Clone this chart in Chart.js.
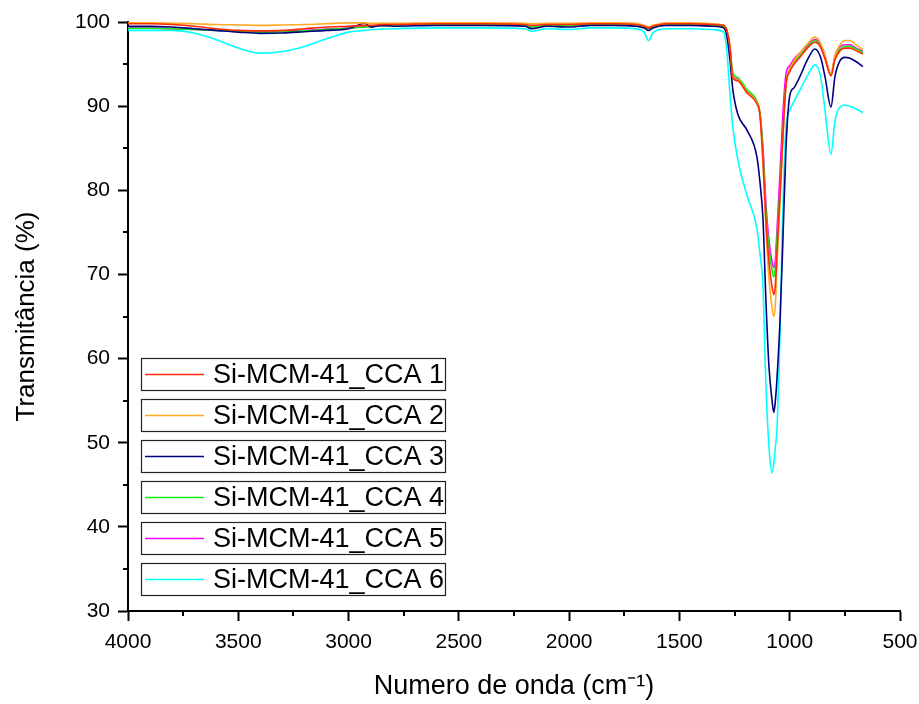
<!DOCTYPE html>
<html>
<head>
<meta charset="utf-8">
<title>FTIR Si-MCM-41_CCA</title>
<script src="https://cdn.jsdelivr.net/npm/chart.js@4.4.1/dist/chart.umd.min.js"></script>
<style>
  html, body { margin: 0; padding: 0; background: #fff; }
  #wrap { width: 919px; height: 704px; position: relative; }
</style>
</head>
<body>
<div id="wrap"><canvas id="ftirChart"></canvas></div>
<script>
// wavenumbers (cm-1)
const wavenumbers = [4000, 3900, 3800, 3700, 3600, 3500, 3400, 3300, 3200, 3100,
  3000, 2926, 2900, 2850, 2800, 2600, 2400, 2200, 2170, 2100,
  2000, 1900, 1800, 1700, 1660, 1640, 1620, 1560, 1450, 1350,
  1300, 1285, 1271, 1258, 1235, 1195, 1149, 1135, 1121, 1108,
  1094, 1080, 1072, 1065, 1058, 1044, 1031, 1017, 1000, 980,
  954, 920, 886, 860, 840, 813, 795, 772, 750, 727,
  700, 668];

// transmittance (%) per sample
const cca1 = [99.8, 99.8, 99.7, 99.5, 99.2, 99.0, 98.95, 99.0, 99.2, 99.4,
  99.5, 99.6, 99.6, 99.7, 99.7, 99.8, 99.8, 99.7, 99.6, 99.7,
  99.7, 99.8, 99.8, 99.7, 99.5, 99.3, 99.5, 99.8, 99.8, 99.7,
  99.6, 99.0, 97.0, 93.3, 93.0, 91.6, 90.3, 89.0, 83.5, 76.5,
  71.5, 68.5, 67.6, 68.8, 72.5, 79.5, 86.5, 92.5, 94.1, 95.0,
  95.8, 96.9, 97.6, 97.0, 95.6, 93.6, 95.5, 96.6, 96.9, 96.9,
  96.6, 96.2];
const cca2 = [99.9, 99.9, 99.85, 99.8, 99.7, 99.65, 99.6, 99.65, 99.7, 99.8,
  99.9, 99.9, 99.85, 99.85, 99.85, 99.9, 99.9, 99.85, 99.8, 99.85,
  99.85, 99.9, 99.9, 99.85, 99.6, 99.4, 99.6, 99.9, 99.9, 99.8,
  99.6, 99.1, 97.2, 93.5, 93.1, 91.7, 90.4, 89.0, 83.0, 75.5,
  69.5, 66.0, 65.0, 66.5, 71.0, 78.5, 86.0, 92.5, 94.4, 95.4,
  96.3, 97.4, 98.2, 97.5, 96.0, 93.8, 96.0, 97.3, 97.8, 97.8,
  97.3, 96.7];
const cca3 = [99.5, 99.5, 99.4, 99.2, 99.0, 98.8, 98.65, 98.7, 98.85, 99.0,
  99.2, 99.85, 99.4, 99.6, 99.5, 99.6, 99.6, 99.5, 99.2, 99.5,
  99.4, 99.6, 99.6, 99.5, 99.3, 99.0, 99.3, 99.6, 99.6, 99.5,
  99.3, 98.3, 95.5, 92.0, 89.0, 87.2, 84.0, 81.0, 76.5, 67.0,
  59.0, 55.0, 53.6, 55.0, 57.5, 64.5, 74.0, 85.0, 91.2, 92.2,
  93.5, 95.5, 96.8, 95.8, 93.5, 89.9, 93.5, 95.4, 95.8, 95.7,
  95.3, 94.7];
const cca4 = [99.25, 99.25, 99.2, 99.1, 99.0, 98.9, 98.8, 98.85, 98.95, 99.1,
  99.25, 99.4, 99.45, 99.55, 99.6, 99.7, 99.7, 99.6, 99.4, 99.6,
  99.6, 99.7, 99.7, 99.6, 99.4, 99.2, 99.4, 99.7, 99.7, 99.6,
  99.4, 98.8, 97.0, 94.0, 93.4, 92.0, 90.6, 89.2, 84.5, 77.5,
  73.0, 70.5, 69.7, 70.8, 74.0, 80.0, 86.5, 92.5, 94.3, 95.2,
  96.0, 97.0, 97.8, 97.1, 95.8, 93.8, 95.7, 96.8, 97.1, 97.1,
  96.8, 96.4];
const cca5 = [99.3, 99.3, 99.2, 99.1, 99.0, 98.9, 98.85, 98.9, 99.0, 99.15,
  99.3, 99.45, 99.5, 99.55, 99.6, 99.7, 99.7, 99.6, 99.4, 99.6,
  99.6, 99.7, 99.7, 99.6, 99.4, 99.2, 99.4, 99.7, 99.7, 99.6,
  99.4, 98.8, 96.9, 93.6, 93.2, 91.8, 90.5, 89.1, 85.0, 78.5,
  74.0, 71.5, 70.8, 71.8, 75.0, 82.0, 89.0, 93.8, 94.8, 95.6,
  96.3, 97.2, 97.9, 97.3, 96.0, 93.7, 96.0, 97.1, 97.3, 97.3,
  96.9, 96.5];
const cca6 = [99.0, 99.0, 99.0, 98.7, 97.9, 96.9, 96.3, 96.5, 97.1, 98.0,
  98.8, 99.0, 99.1, 99.15, 99.2, 99.3, 99.3, 99.2, 98.9, 99.2,
  99.1, 99.3, 99.3, 99.2, 98.8, 97.8, 98.7, 99.2, 99.2, 99.1,
  98.8, 96.5, 91.5, 87.5, 83.6, 79.5, 75.5, 72.5, 68.5, 57.0,
  49.5, 46.4, 47.5, 49.5, 51.5, 63.0, 77.7, 87.5, 89.5, 90.6,
  91.9, 93.6, 94.9, 93.5, 89.5, 84.3, 88.2, 89.9, 90.1, 90.0,
  89.7, 89.2];

const seriesNames = ["Si-MCM-41_CCA 1", "Si-MCM-41_CCA 2", "Si-MCM-41_CCA 3",
  "Si-MCM-41_CCA 4", "Si-MCM-41_CCA 5", "Si-MCM-41_CCA 6"];
const seriesColors = ["#ff2a0a", "#ffaa22", "#000080", "#11ee11", "#ff00ff", "#00ffff"];
const allSeries = [cca1, cca2, cca3, cca4, cca5, cca6];

const FONT = "'Liberation Sans', Arial, sans-serif";

// minor ticks halfway between the major ones
const minorTicks = {
  id: "minorTicks",
  afterDraw(chart) {
    const { ctx, scales: { x, y } } = chart;
    ctx.save();
    ctx.strokeStyle = "#000";
    ctx.lineWidth = 2;
    ctx.beginPath();
    for (let v = 750; v < 4000; v += 500) {
      const px = Math.round(x.getPixelForValue(v));
      ctx.moveTo(px, y.bottom);
      ctx.lineTo(px, y.bottom + 5);
    }
    for (let v = 35; v < 100; v += 10) {
      const py = Math.round(y.getPixelForValue(v));
      ctx.moveTo(x.left, py);
      ctx.lineTo(x.left - 5, py);
    }
    ctx.stroke();
    ctx.restore();
  }
};

// one framed box per series, stacked in the lower left corner
const boxedLegend = {
  id: "boxedLegend",
  afterDraw(chart) {
    const ctx = chart.ctx;
    const left = 141, width = 304, height = 32, step = 41;
    let top = 358;
    ctx.save();
    ctx.font = "27px " + FONT;
    ctx.textBaseline = "middle";
    chart.data.datasets.forEach(ds => {
      ctx.fillStyle = "#fff";
      ctx.fillRect(left, top, width, height);
      ctx.strokeStyle = "#222";
      ctx.lineWidth = 1.2;
      ctx.strokeRect(left + 0.5, top + 0.5, width, height);
      const mid = top + height / 2 + 0.5;
      ctx.strokeStyle = ds.borderColor;
      ctx.lineWidth = 1.5;
      ctx.beginPath();
      ctx.moveTo(145, mid);
      ctx.lineTo(204, mid);
      ctx.stroke();
      ctx.fillStyle = "#000";
      ctx.fillText(ds.label, 213, mid + 1);
      top += step;
    });
    ctx.restore();
  }
};

const ctx = document.getElementById("ftirChart").getContext("2d");
new Chart(ctx, {
  type: "line",
  data: {
    datasets: allSeries.map((vals, i) => ({
      label: seriesNames[i],
      data: wavenumbers.map((w, j) => ({ x: w, y: vals[j] })),
      borderColor: seriesColors[i],
      borderWidth: 1.6,
      pointRadius: 0,
      fill: false,
      cubicInterpolationMode: "monotone",
    })),
  },
  options: {
    responsive: true,
    maintainAspectRatio: false,
    animation: false,
    layout: { padding: { top: 22, right: 19, bottom: 0, left: 0 } },
    plugins: {
      legend: { display: false },
      tooltip: { enabled: false },
    },
    scales: {
      x: {
        type: "linear",
        reverse: true,
        min: 500,
        max: 4000,
        afterFit(scale) {
          scale.height = 93;
          scale.paddingLeft = 0;
          scale.paddingRight = 0;
        },
        border: { display: true, color: "#000", width: 2 },
        grid: { drawOnChartArea: false, drawTicks: true, tickLength: 10, tickWidth: 2, tickColor: "#000" },
        ticks: {
          stepSize: 500,
          padding: 9,
          color: "#000",
          font: { family: FONT, size: 21 },
          maxRotation: 0,
          callback: v => String(v),
        },
        title: {
          display: true,
          text: "Numero de onda (cm⁻¹)",
          color: "#000",
          font: { family: FONT, size: 27 },
          padding: { top: 0, bottom: 1 },
        },
      },
      y: {
        min: 30,
        max: 100,
        afterFit(scale) { scale.width = 128; },
        border: { display: true, color: "#000", width: 2 },
        grid: { drawOnChartArea: false, drawTicks: true, tickLength: 10, tickWidth: 2, tickColor: "#000" },
        ticks: {
          stepSize: 10,
          padding: 8,
          color: "#000",
          font: { family: FONT, size: 21 },
        },
        title: {
          display: true,
          text: "Transmitância (%)",
          color: "#000",
          font: { family: FONT, size: 26 },
          padding: { top: 11, bottom: 0 },
        },
      },
    },
  },
  plugins: [minorTicks, boxedLegend],
});
</script>
</body>
</html>
